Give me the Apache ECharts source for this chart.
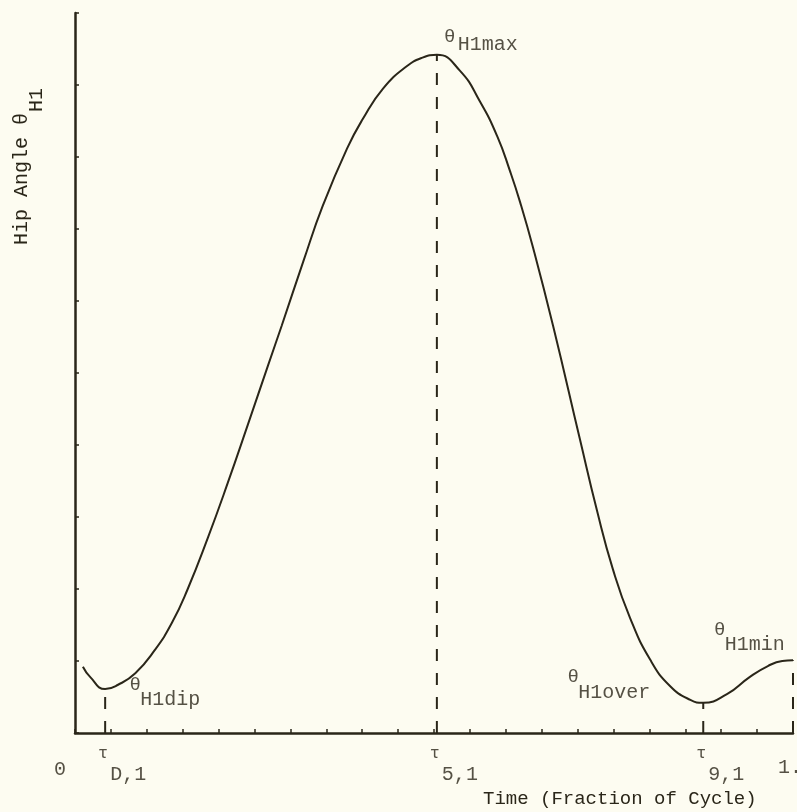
<!DOCTYPE html>
<html>
<head>
<meta charset="utf-8">
<script src="https://cdn.jsdelivr.net/npm/echarts@6/dist/echarts.min.js"></script>
<style>
html,body{margin:0;padding:0;background:#fdfcf1;}
#c{width:797px;height:812px;}
</style>
</head>
<body>
<div id="c"></div>
<script>
// ---- data (fraction of cycle, normalised hip angle) ----
var timeVals  = [0.011,0.021,0.042,0.060,0.084,0.111,0.135,0.157,0.185,0.213,0.241,0.269,0.288,0.318,0.345,0.379,0.401,0.429,0.462,0.484,0.504,0.536,0.564,0.588,0.606,0.620,0.638,0.666,0.703,0.727,0.749,0.773,0.801,0.829,0.857,0.875,0.908,0.940,0.965,0.985,1.000];
var angleVals = [0.092,0.078,0.061,0.067,0.083,0.115,0.153,0.200,0.271,0.348,0.429,0.511,0.566,0.655,0.732,0.812,0.853,0.895,0.926,0.938,0.942,0.920,0.877,0.829,0.780,0.737,0.674,0.565,0.409,0.309,0.228,0.160,0.102,0.065,0.046,0.042,0.054,0.078,0.093,0.100,0.101];

// dashed drop lines at characteristic instants
var markTimes  = [0.042, 0.504, 0.875, 1.000];
var markAngles = [0.061, 0.942, 0.042, 0.101];

// tau labels under the axis
var tauTimes = [0.042, 0.504, 0.875];
var tauSubs  = ['D,1', '5,1', '9,1'];

// end-of-axis labels
var endTimes  = [0, 1];
var endLabels = ['0', '1.'];

// theta annotations (theta symbol anchor, subscript anchor, subscript text)
var thetaX   = [0.084, 0.522, 0.694, 0.898];
var thetaY   = [0.067, 0.967, 0.078, 0.143];
var subX     = [0.091, 0.533, 0.701, 0.905];
var subY     = [0.046, 0.956, 0.056, 0.122];
var subTexts = ['H1dip', 'H1max', 'H1over', 'H1min'];

var xTickInterval = 0.05;
var yTickInterval = 0.1;

// ---- styles ----
var INK = '#2a2619';
var FONT = '"Liberation Mono", "DejaVu Sans Mono", monospace';

var chart = echarts.init(document.getElementById('c'), null, {renderer: 'canvas'});

var series = [];
series.push({
  type: 'line',
  data: timeVals.map(function (t, i) { return [t, angleVals[i]]; }),
  smooth: 0.5,
  showSymbol: false,
  lineStyle: {color: INK, width: 2},
  z: 5
});
markTimes.forEach(function (t, i) {
  series.push({
    type: 'line',
    data: [[t, 0], [t, markAngles[i]]],
    showSymbol: false,
    lineStyle: {color: INK, width: 2, type: [12, 12]},
    z: 4
  });
});

function labelSeries(points, labelOpt) {
  return {
    type: 'scatter',
    symbolSize: 0,
    silent: true,
    data: points,
    label: Object.assign({
      show: true,
      position: [0, 0],
      color: INK,
      fontFamily: FONT,
      formatter: function (p) { return p.data.txt; }
    }, labelOpt),
    z: 10
  };
}

// theta symbols
series.push(labelSeries(thetaX.map(function (x, i) { return {value: [x, thetaY[i]], txt: 'θ'}; }),
  {fontSize: 19, align: 'center', verticalAlign: 'middle'}));
// subscripts
series.push(labelSeries(subX.map(function (x, i) { return {value: [x, subY[i]], txt: subTexts[i]}; }),
  {fontSize: 20, align: 'left', verticalAlign: 'middle'}));
// tau symbols
series.push(labelSeries(tauTimes.map(function (x) { return {value: [x, 0], txt: 'τ'}; }),
  {fontSize: 17, align: 'center', verticalAlign: 'middle', offset: [-2, 20]}));
// tau subscripts
series.push(labelSeries(tauTimes.map(function (x, i) { return {value: [x, 0], txt: tauSubs[i]}; }),
  {fontSize: 20, align: 'left', verticalAlign: 'middle', offset: [5, 42]}));
// 0 label
series.push(labelSeries([{value: [endTimes[0], 0], txt: endLabels[0]}],
  {fontSize: 20, align: 'center', verticalAlign: 'middle', offset: [-15, 37]}));
// 1. label
series.push(labelSeries([{value: [endTimes[1], 0], txt: endLabels[1]}],
  {fontSize: 20, align: 'left', verticalAlign: 'middle', offset: [-15, 35]}));

var axisCommon = {
  type: 'value',
  min: 0,
  max: 1,
  axisLine: {show: true, lineStyle: {color: INK, width: 2.5}},
  axisTick: {show: true, inside: true, length: 4, lineStyle: {color: INK, width: 1.5}},
  axisLabel: {show: false},
  splitLine: {show: false}
};

chart.setOption({
  backgroundColor: '#fdfcf1',
  animation: false,
  grid: {left: 75, right: 4, top: 13, bottom: 79, containLabel: false},
  xAxis: Object.assign({}, axisCommon, {interval: xTickInterval}),
  yAxis: Object.assign({}, axisCommon, {interval: yTickInterval}),
  title: {
    text: 'Time (Fraction of Cycle)',
    left: 483,
    top: 789,
    padding: 0,
    textStyle: {color: INK, fontFamily: FONT, fontSize: 19, fontWeight: 'normal'}
  },
  graphic: [
    {
      type: 'text',
      x: 22, y: 179,
      rotation: Math.PI / 2,
      style: {text: 'Hip Angle θ', fill: INK, font: '20px ' + FONT, textAlign: 'center', textVerticalAlign: 'middle'}
    },
    {
      type: 'text',
      x: 37, y: 100,
      rotation: Math.PI / 2,
      style: {text: 'H1', fill: INK, font: '20px ' + FONT, textAlign: 'center', textVerticalAlign: 'middle'}
    }
  ],
  series: series
});
</script>
</body>
</html>
